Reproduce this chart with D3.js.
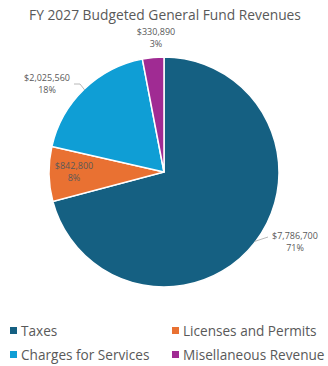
<!DOCTYPE html>
<html>
<head>
<meta charset="utf-8">
<script src="https://cdn.jsdelivr.net/npm/d3@7"></script>
<style>
  html, body { margin: 0; padding: 0; background: #fff; }
  svg { display: block; font-family: "Open Sans", "Noto Sans", sans-serif; }
</style>
</head>
<body>
<svg id="chart" width="328" height="366"></svg>
<script>
// Revenue categories and amounts
const categories = ["Taxes", "Licenses and Permits", "Charges for Services", "Misellaneous Revenue"];
const amounts = [7786700, 842800, 2025560, 330890];
const percentLabels = ["71%", "8%", "18%", "3%"];
const colors = ["#156082", "#E97132", "#0F9ED5", "#A02B93"];

const svg = d3.select("#chart");
const W = 328, H = 366;
const cx = 164, cy = 172, R = 115;
const textColor = "#595959";

svg.append("text")
  .attr("x", W / 2 + 1).attr("y", 20)
  .attr("text-anchor", "middle")
  .attr("font-size", 13.8)
  .attr("fill", textColor)
  .text("FY 2027 Budgeted General Fund Revenues");

const data = categories.map((c, i) => ({ name: c, value: amounts[i], pct: percentLabels[i], color: colors[i] }));

const pie = d3.pie().sort(null).value(d => d.value);
const arcs = pie(data);
const arc = d3.arc().innerRadius(0).outerRadius(R);

const g = svg.append("g").attr("transform", `translate(${cx},${cy})`);
g.selectAll("path.slice")
  .data(arcs)
  .join("path")
  .attr("class", "slice")
  .attr("d", arc)
  .attr("fill", d => d.data.color)
  .attr("stroke", "#fff")
  .attr("stroke-width", 1.5);

const fmt = d3.format("$,");

// Label placement per slice: offsets relative to the pie centre
const labelPos = [
  { x: 131, y: 67, anchor: "middle" },
  { x: -90, y: -3, anchor: "middle" },
  { x: -117, y: -91, anchor: "middle" },
  { x: -8, y: -137, anchor: "middle" }
];

arcs.forEach((a, i) => {
  const p = labelPos[i];
  const t = g.append("text")
    .attr("text-anchor", p.anchor)
    .attr("font-size", 9)
    .attr("fill", textColor);
  t.append("tspan").attr("x", p.x).attr("y", p.y).text(fmt(a.data.value));
  t.append("tspan").attr("x", p.x).attr("y", p.y + 12).text(a.data.pct);
});

// Leader lines from labels to slice edges
function edgePoint(a) {
  const mid = (a.startAngle + a.endAngle) / 2;
  return [Math.sin(mid) * (R - 1), -Math.cos(mid) * (R - 1)];
}
// Taxes
{
  const e = edgePoint(arcs[0]);
  g.append("polyline")
    .attr("points", [[e[0], e[1]], [104, 65]].map(p => p.join(",")).join(" "))
    .attr("fill", "none").attr("stroke", "#a6a6a6").attr("stroke-width", 0.8);
}
// Charges for Services
{
  const e = edgePoint(arcs[2]);
  g.append("polyline")
    .attr("points", [[-90, -88], [-84, -88], [e[0], e[1]]].map(p => p.join(",")).join(" "))
    .attr("fill", "none").attr("stroke", "#a6a6a6").attr("stroke-width", 0.8);
}

// Legend
const legendItems = [
  { i: 0, x: 10, y: 331 },
  { i: 1, x: 172, y: 331 },
  { i: 2, x: 10, y: 355 },
  { i: 3, x: 172, y: 355 }
];
const lg = svg.append("g");
legendItems.forEach(li => {
  lg.append("rect")
    .attr("x", li.x).attr("y", li.y - 4)
    .attr("width", 7).attr("height", 7)
    .attr("fill", colors[li.i]);
  lg.append("text")
    .attr("x", li.x + 11).attr("y", li.y)
    .attr("dy", "0.35em")
    .attr("font-size", 13.6)
    .attr("fill", textColor)
    .text(categories[li.i]);
});
</script>
</body>
</html>
